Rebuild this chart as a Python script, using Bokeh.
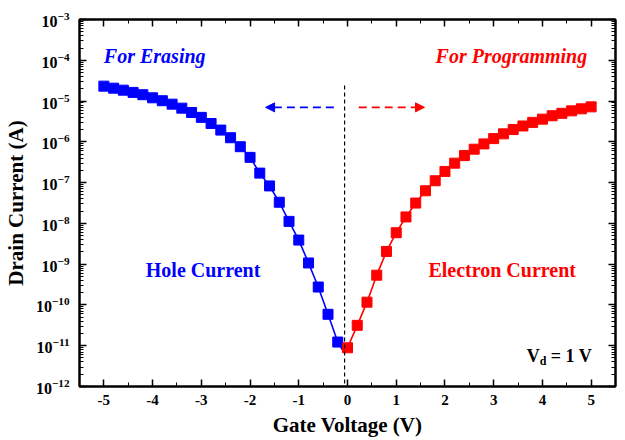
from bokeh.plotting import figure
from bokeh.models import (FixedTicker, LogAxis, LinearAxis, Label, Arrow, NormalHead,
                          Range1d, LogTickFormatter)
from bokeh.embed import file_html
from bokeh.resources import INLINE

# ---------------- data ----------------
hole_v = [-5.0, -4.8, -4.6, -4.4, -4.2, -4.0, -3.8, -3.6, -3.4, -3.2, -3.0, -2.8, -2.6,
          -2.4, -2.2, -2.0, -1.8, -1.6, -1.4, -1.2, -1.0, -0.8, -0.6, -0.4, -0.2]
hole_i = [2.32e-5, 2.07e-5, 1.85e-5, 1.63e-5, 1.43e-5, 1.2e-5, 1.02e-5, 8.4e-6, 6.7e-6,
          5.25e-6, 3.98e-6, 2.82e-6, 1.94e-6, 1.26e-6, 7.6e-7, 4.16e-7, 1.71e-7, 8.3e-8,
          3.3e-8, 1.12e-8, 3.9e-9, 1.07e-9, 2.75e-10, 5.9e-11, 1.23e-11]

elec_v = [0.0, 0.2, 0.4, 0.6, 0.8, 1.0, 1.2, 1.4, 1.6, 1.8, 2.0, 2.2, 2.4, 2.6, 2.8, 3.0,
          3.2, 3.4, 3.6, 3.8, 4.0, 4.2, 4.4, 4.6, 4.8, 5.0]
elec_i = [8.9e-12, 3.16e-11, 1.17e-10, 5.37e-10, 2.05e-9, 5.9e-9, 1.44e-8, 3.15e-8, 6.3e-8,
          1.11e-7, 1.88e-7, 3.0e-7, 4.6e-7, 6.6e-7, 8.9e-7, 1.2e-6, 1.57e-6, 2.0e-6,
          2.45e-6, 3.0e-6, 3.6e-6, 4.36e-6, 5.0e-6, 5.75e-6, 6.45e-6, 7.2e-6]

# curve minimum (line vertex, no marker)
min_v = [-0.08]
min_i = [7.1e-12]

x_ticks = [-5, -4, -3, -2, -1, 0, 1, 2, 3, 4, 5]
x_tick_labels = ["-5", "-4", "-3", "-2", "-1", "0", "1", "2", "3", "4", "5"]
x_minor = [-5.5, -4.5, -3.5, -2.5, -1.5, -0.5, 0.5, 1.5, 2.5, 3.5, 4.5, 5.5]
y_ticks = [1e-12, 1e-11, 1e-10, 1e-9, 1e-8, 1e-7, 1e-6, 1e-5, 1e-4, 1e-3]
y_minor = [m * t for t in y_ticks[:-1] for m in [2, 3, 4, 5, 6, 7, 8, 9]]

BLUE = "#0000FF"
RED = "#FF0000"
FONT = "Liberation Serif"

p = figure(width=624, height=439, output_backend="svg", toolbar_location=None,
           y_axis_type="log", x_range=Range1d(-5.5, 5.5), y_range=Range1d(1e-12, 1e-3),
           min_border_left=78, min_border_right=9, min_border_top=19, min_border_bottom=53)
p.grid.visible = False
p.outline_line_color = "black"
p.outline_line_width = 2

# lines
p.line(hole_v + min_v, hole_i + min_i, line_color=BLUE, line_width=1.6)
p.line(min_v + elec_v, min_i + elec_i, line_color=RED, line_width=1.6)
p.scatter(hole_v, hole_i, marker="square", size=10, fill_color=BLUE, line_color=BLUE)
p.scatter(elec_v, elec_i, marker="square", size=10, fill_color=RED, line_color=RED)

# vertical dashed line at the minimum
p.line([-0.06, -0.06], [2.4e-5, 1e-12], line_color="black", line_width=1.2, line_dash="4 3")

# arrows
p.add_layout(Arrow(x_start=-0.28, y_start=7.0e-6, x_end=-1.68, y_end=7.0e-6,
                   line_color=BLUE, line_width=1.6, line_dash="8 5",
                   end=NormalHead(size=9, fill_color=BLUE, line_color=BLUE)))
p.add_layout(Arrow(x_start=0.23, y_start=7.0e-6, x_end=1.58, y_end=7.0e-6,
                   line_color=RED, line_width=1.6, line_dash="8 5",
                   end=NormalHead(size=9, fill_color=RED, line_color=RED)))

# annotations
def lab(x, y, t, color, size, style="bold", align="left", baseline="middle", xo=0, yo=0):
    p.add_layout(Label(x=x, y=y, text=t, text_color=color, text_font=FONT,
                       text_font_size=size, text_font_style=style, text_align=align,
                       text_baseline=baseline, x_offset=xo, y_offset=yo))

lab(-5.0, 1.24e-4, "For Erasing", BLUE, "20px", "bold italic")
lab(4.92, 1.24e-4, "For Programming", RED, "20px", "bold italic", align="right")
lab(-4.14, 7.1e-10, "Hole Current", BLUE, "20px")
lab(1.66, 7.1e-10, "Electron Current", RED, "20px")
lab(3.68, 5.5e-12, "V", "black", "18px")
lab(3.68, 5.5e-12, "d", "black", "12px", xo=13, yo=-5)
lab(3.68, 5.5e-12, "= 1 V", "black", "18px", xo=24)

# axes styling
def style_axis(ax, show_labels):
    ax.major_tick_in = 7
    ax.major_tick_out = 0
    ax.minor_tick_in = 4
    ax.minor_tick_out = 0
    ax.axis_line_width = 2
    ax.axis_line_color = "black"
    ax.major_tick_line_width = 1.5
    ax.major_tick_line_color = "black"
    ax.minor_tick_line_width = 1
    ax.minor_tick_line_color = "black"
    ax.major_label_text_font = FONT
    ax.major_label_text_font_style = "bold"
    ax.major_label_text_color = "black"
    ax.axis_label_text_font = FONT
    ax.axis_label_text_font_style = "bold"
    ax.axis_label_text_font_size = "21px"
    ax.axis_label_text_color = "black"
    if not show_labels:
        ax.major_label_text_color = None
        ax.major_label_text_font_size = "0px"
        ax.major_label_standoff = 0

xa = p.xaxis[0]
xa.ticker = FixedTicker(ticks=x_ticks, minor_ticks=x_minor)
xa.major_label_overrides = {t: s for t, s in zip(x_ticks, x_tick_labels)}
xa.axis_label = "Gate Voltage (V)"
xa.major_label_text_font_size = "15px"
xa.major_label_standoff = 8
xa.axis_label_standoff = 5
style_axis(xa, True)

ya = p.yaxis[0]
ya.ticker = FixedTicker(ticks=y_ticks, minor_ticks=y_minor)
ya.formatter = LogTickFormatter()
ya.axis_label = "Drain Current (A)"
ya.major_label_text_font_size = "16px"
ya.major_label_standoff = 10
ya.axis_label_standoff = 5
style_axis(ya, True)

top = LinearAxis(ticker=FixedTicker(ticks=x_ticks, minor_ticks=x_minor))
style_axis(top, False)
p.add_layout(top, "above")
right = LogAxis(ticker=FixedTicker(ticks=y_ticks, minor_ticks=y_minor))
style_axis(right, False)
p.add_layout(right, "right")

open("out.html", "w").write(file_html(p, INLINE))
